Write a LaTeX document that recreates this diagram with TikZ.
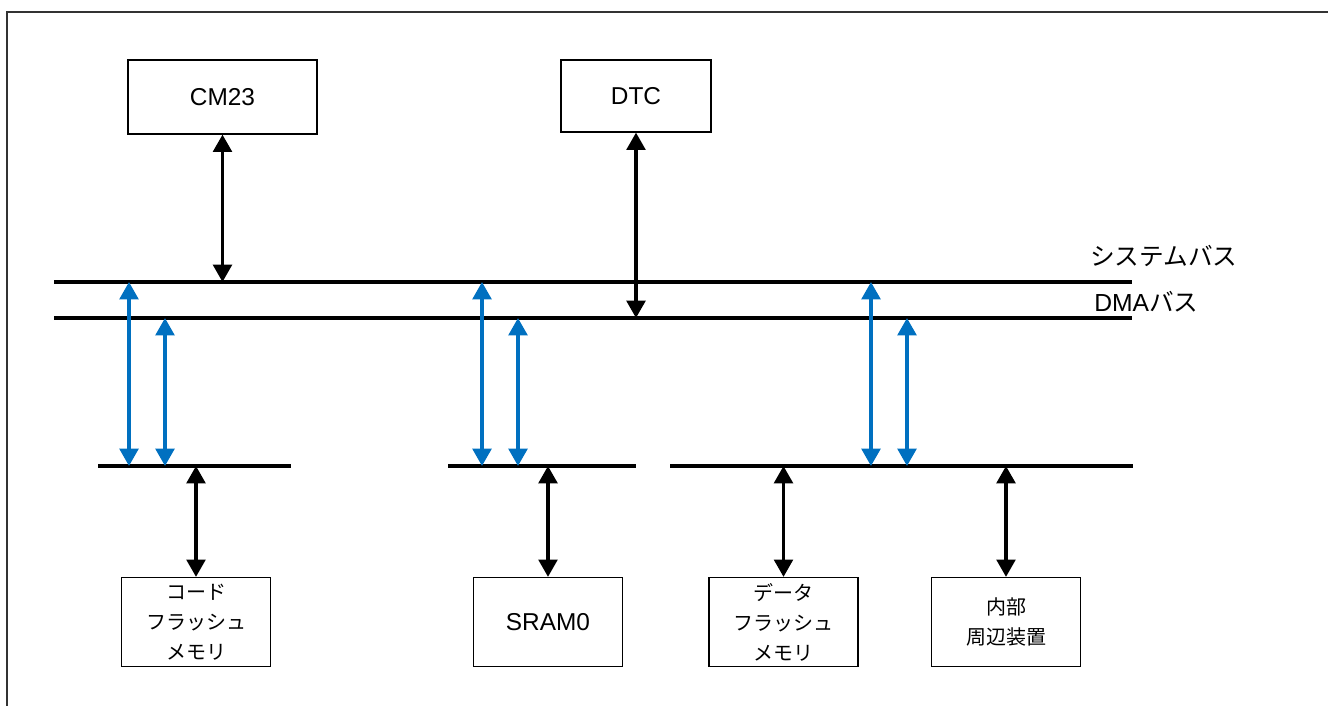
\documentclass[tikz,border=0pt]{standalone}
\usepackage{fontspec}
\setmainfont{Liberation Sans}
\newfontfamily\jp{Noto Sans CJK JP}
\usetikzlibrary{arrows.meta, positioning, calc}
\definecolor{dmablue}{HTML}{0070C0}
\newcommand{\busline}[4]{%
  \coordinate (#1L) at (#2,#4);
  \coordinate (#1R) at (#3,#4);
  \draw[bus] (#1L) -- (#1R);%
}
\tikzset{
  blk/.style={draw, line width=0.9pt, align=center, inner sep=0pt,
    font=\fontsize{18.3}{22}\selectfont},
  lowblk/.style={blk, minimum width=111.75pt, minimum height=66.75pt,
    font=\jp\fontsize{15}{22.5}\selectfont},
  bus/.style={line width=2.6pt},
  link/.style={line width=2.6pt,
    {Triangle[length=13pt,width=14pt]}-{Triangle[length=13pt,width=14pt]}},
  dmalink/.style={link, draw=dmablue},
}

\begin{document}
\begin{tikzpicture}[x=0.75pt, y=-0.75pt]
        \useasboundingbox (0,0) rectangle (1328,706);
        \draw[line width=1.4pt, black!80] (7,706) -- (7,12) -- (1328,12);
        % buses
        \busline{sys}{54}{1132}{282}
        \busline{dma}{54}{1132}{318}
        \busline{lba}{98}{291}{466}
        \busline{lbb}{448}{636}{466}
        \busline{lbc}{670}{1133}{466}
        \node[anchor=west, inner sep=0pt, font=\jp\fontsize{18.5}{22}\selectfont]
          (syslbl) at (1090,256) {システムバス};
        \node[anchor=west, inner sep=0pt, font=\fontsize{18.5}{22}\selectfont]
          (dmalbl) at (1094,302) {DMA{\jp バス}};
        % masters
        \node[blk, minimum width=141.75pt, minimum height=55.5pt] (cm23) at (222.5,97) {CM23};
        \node[blk, minimum width=112.5pt, minimum height=54pt] (dtc) at (636,96) {DTC};
        % slaves
        \node[lowblk] (codefl) at (196,622) {コード\\フラッシュ\\メモリ};
        \node[lowblk, font=\fontsize{18.3}{22}\selectfont] (sram) at (548,622) {SRAM0};
        \node[lowblk] (datafl) at (783.5,622) {データ\\フラッシュ\\メモリ};
        \node[lowblk] (periph) at (1006,622) {内部\\周辺装置};
        \draw[link] (cm23.south) -- (cm23.south |- sysL);
        \draw[link] (dtc.south) -- (dtc.south |- dmaL);
        \foreach \b in {codefl, sram, datafl, periph}
          \draw[link] (\b.north) -- (\b.north |- lbaL);
        \foreach \x in {129,482,871} {
          \draw[dmalink] (\x,0 |- lbaL) -- (\x,0 |- sysL);
          \draw[dmalink] (\x+36,0 |- lbaL) -- (\x+36,0 |- dmaL);
        }
      \end{tikzpicture}
\end{document}
